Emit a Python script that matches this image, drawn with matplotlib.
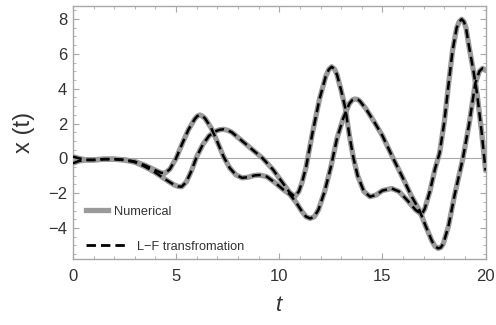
import matplotlib
matplotlib.use('Agg')
from matplotlib import pyplot as plt
from matplotlib.lines import Line2D
from matplotlib.ticker import MultipleLocator

plt.rcParams['font.family'] = ['Liberation Sans', 'DejaVu Sans']

# first trajectory (ends near +5 at t=20)
t_p = [0, 0.3, 0.6, 1.0, 1.5, 2.0, 2.5, 3.0, 3.5, 4.0, 4.25, 4.45, 4.7, 5.0,
       5.3, 5.6, 5.9, 6.03, 6.15, 6.27, 6.4, 6.7, 7.0, 7.3, 7.6, 7.9, 8.2, 8.5,
       8.8, 9.05, 9.4, 9.8, 10.2, 10.5, 10.8, 11.1, 11.3, 11.5, 11.7, 11.9,
       12.2, 12.5, 12.8, 13.1, 13.4, 13.55, 13.67, 13.8, 13.9, 14.2, 14.6,
       15.0, 15.5, 16.0, 16.4, 16.8, 17.1, 17.4, 17.55, 17.7, 17.83, 17.95,
       18.2, 18.5, 18.9, 19.2, 19.5, 19.7, 19.85, 20.0]
x_p = [0.10, 0.0, -0.08, -0.08, -0.04, -0.04, -0.08, -0.18, -0.40, -0.68,
       -0.82, -0.86, -0.62, 0.0, 0.85, 1.65, 2.25, 2.43, 2.49, 2.43, 2.30,
       1.75, 0.95, 0.10, -0.55, -0.95, -1.12, -1.08, -0.98, -0.96, -1.05,
       -1.40, -1.80, -2.05, -2.50, -3.05, -3.35, -3.45, -3.35, -2.95, -1.90,
       -0.50, 1.15, 2.30, 3.15, 3.36, 3.41, 3.38, 3.30, 2.85, 2.10, 1.30, 0.05,
       -1.15, -2.15, -3.00, -3.90, -4.75, -5.05, -5.17, -5.12, -4.90, -3.90,
       -2.10, 0.0, 1.95, 4.30, 5.00, 5.17, 5.05]

# second trajectory (tallest peak near t=18.8)
t_q = [0, 0.3, 0.6, 1.0, 1.5, 2.0, 2.5, 3.0, 3.5, 4.0, 4.5, 4.9, 5.1, 5.27,
       5.5, 5.75, 6.0, 6.3, 6.6, 6.9, 7.1, 7.3, 7.5, 7.7, 8.1, 8.6, 9.2, 9.7,
       10.1, 10.5, 10.75, 10.95, 11.1, 11.3, 11.6, 11.95, 12.25, 12.4, 12.54,
       12.68, 12.8, 13.0, 13.2, 13.4, 13.6, 13.8, 14.1, 14.4, 14.7, 15.0, 15.45,
       15.8, 16.2, 16.6, 16.9, 17.05, 17.3, 17.55, 17.77, 18.0, 18.2, 18.4,
       18.6, 18.72, 18.84, 18.95, 19.05, 19.2, 19.4, 19.5, 19.6, 19.8, 20.0]
x_q = [-0.28, -0.15, -0.10, -0.10, -0.05, -0.05, -0.10, -0.22, -0.48, -0.82,
       -1.22, -1.52, -1.61, -1.63, -1.35, -0.70, 0.10, 0.80, 1.30, 1.55, 1.64,
       1.67, 1.61, 1.50, 1.10, 0.60, 0.0, -0.65, -1.30, -1.95, -2.20, -1.90,
       -1.40, -0.50, 1.40, 3.40, 4.70, 5.10, 5.26, 5.12, 4.80, 3.90, 2.90,
       1.30, 0.0, -1.00, -1.90, -2.20, -2.10, -1.85, -1.73, -1.90, -2.40,
       -2.95, -3.22, -2.90, -1.90, -0.60, 0.30, 2.10, 4.20, 6.20, 7.50, 7.85,
       7.99, 7.85, 7.50, 6.40, 5.10, 4.40, 3.60, 1.60, -0.70]

curves = [(t_p, x_p), (t_q, x_q)]
gray = '#9a9a9a'
frame = '#a8a8a8'
txt = '#333333'
dash = (3.6, 2.0)

fig = plt.figure(figsize=(4.96, 3.25), dpi=100)
ax = fig.add_axes([0.147, 0.202, 0.832, 0.7795])

ax.axhline(0, color=frame, lw=0.8, zorder=1)
for t, x in curves:
    ax.plot(t, x, color=gray, lw=3.8, solid_capstyle='round',
            solid_joinstyle='round', zorder=2)
for t, x in curves:
    ax.plot(t, x, color='black', lw=1.8, dashes=dash, zorder=3)

ax.set_xlim(0, 20)
ax.set_ylim(-5.8, 8.75)
ax.xaxis.set_major_locator(MultipleLocator(5))
ax.xaxis.set_minor_locator(MultipleLocator(1))
ax.yaxis.set_major_locator(MultipleLocator(2))
ax.yaxis.set_minor_locator(MultipleLocator(0.5))
ax.tick_params(which='both', direction='in', top=True, right=True,
               color=frame, labelcolor=txt, labelsize=12)
ax.tick_params(which='major', length=4.5, width=0.8)
ax.tick_params(which='minor', length=2.5, width=0.6)
ax.tick_params(axis='x', pad=7)
ax.tick_params(axis='y', pad=4)
for s in ax.spines.values():
    s.set_color(frame)
    s.set_linewidth(1.0)

ax.set_ylabel('x (t)', fontsize=17, color=txt)
ax.yaxis.set_label_coords(-0.092, 0.5)
ax.set_xlabel('t', fontsize=16, color=txt, style='italic')
ax.xaxis.set_label_coords(0.5, -0.141)

# two separate legend entries, the dashed one has a longer sample line
leg1 = ax.legend([Line2D([], [], color=gray, lw=3.8)], ['Numerical'],
                 loc='lower left', bbox_to_anchor=(0.032, 0.165),
                 borderaxespad=0, borderpad=0, frameon=False, fontsize=9.2,
                 handlelength=1.75, handletextpad=0.45, labelcolor=txt)
ax.add_artist(leg1)
ax.legend([Line2D([], [], color='black', lw=2.0, dashes=(3.4, 1.8))],
          ['L\u2212F transfromation'], loc='lower left',
          bbox_to_anchor=(0.032, 0.027), borderaxespad=0, borderpad=0,
          frameon=False, fontsize=9.2, handlelength=3.1, handletextpad=0.85,
          labelcolor=txt)

fig.savefig('out.png', dpi=100)
